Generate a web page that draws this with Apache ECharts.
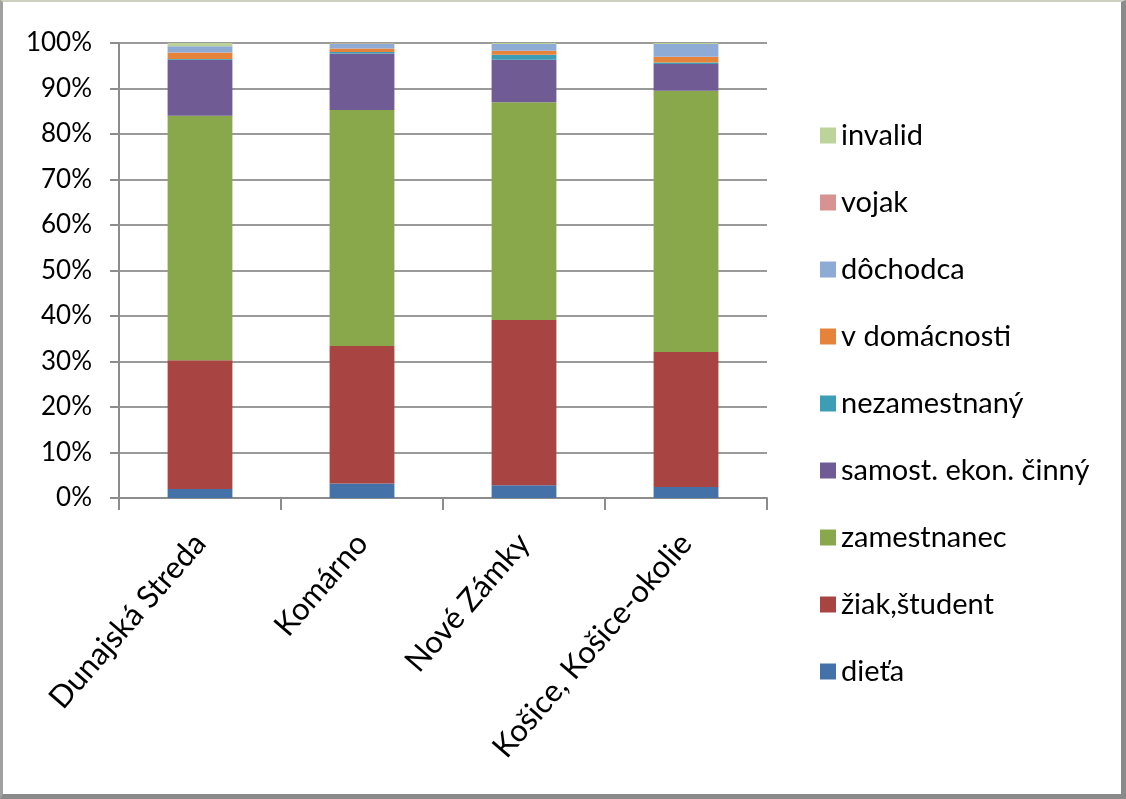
<!DOCTYPE html>
<html>
<head>
<meta charset="utf-8">
<script src="https://cdn.jsdelivr.net/npm/echarts@6/dist/echarts.min.js"></script>
<style>
html,body{margin:0;padding:0;background:#fff;}
#frame{position:absolute;left:0;top:0;width:1126px;height:799px;box-sizing:border-box;
border-top:2px solid #cfcfc0;border-left:3px solid #a0a0a0;border-right:5px solid #8a8a8a;border-bottom:5px solid #8a8a8a;}
#chart{position:absolute;left:0;top:0;width:1126px;height:799px;}
</style>
</head>
<body>
<div id="chart"></div>
<div id="frame"></div>
<script>
const categories = ['Dunajská Streda', 'Komárno', 'Nové Zámky', 'Košice, Košice-okolie'];
const yTicks = [0, 10, 20, 30, 40, 50, 60, 70, 80, 90, 100];

const dieta        = [2.0, 3.2, 2.8, 2.4];
const ziakStudent  = [28.3, 30.2, 36.3, 29.7];
const zamestnanec  = [53.7, 51.9, 47.9, 57.4];
const samostEkon   = [12.3, 12.4, 9.3, 5.9];
const nezamestnany = [0.2, 0.3, 1.1, 0.3];
const vDomacnosti  = [1.4, 0.8, 0.9, 1.3];
const dochodca     = [1.4, 1.0, 1.5, 2.8];
const vojak        = [0.0, 0.1, 0.0, 0.0];
const invalid      = [0.7, 0.1, 0.2, 0.2];

const seriesDefs = [
  ['dieťa', dieta, '#4571a9'],
  ['žiak,študent', ziakStudent, '#a84542'],
  ['zamestnanec', zamestnanec, '#88a84b'],
  ['samost. ekon. činný', samostEkon, '#715b94'],
  ['nezamestnaný', nezamestnany, '#3d9db5'],
  ['v domácnosti', vDomacnosti, '#e5833a'],
  ['dôchodca', dochodca, '#8eabd6'],
  ['vojak', vojak, '#d69391'],
  ['invalid', invalid, '#bcd499']
];

const chart = echarts.init(document.getElementById('chart'));
chart.setOption({
  animation: false,
  backgroundColor: '#fff',
  textStyle: { fontFamily: 'Lato', color: '#000' },
  grid: { left: 119, right: 359, top: 43, bottom: 301 },
  legend: {
    orient: 'vertical',
    left: 815,
    top: 116,
    itemWidth: 16,
    itemHeight: 16,
    itemGap: 38,
    icon: 'rect',
    data: seriesDefs.map(s => s[0]).reverse(),
    textStyle: { fontSize: 29, lineHeight: 29, color: '#000', fontFamily: 'Lato', padding: [0, 0, 0, 0] }
  },
  xAxis: {
    type: 'category',
    data: categories,
    axisLine: { lineStyle: { color: '#8c8c8c', width: 2 } },
    axisTick: { show: true, length: 12, lineStyle: { color: '#8c8c8c', width: 2 } },
    axisLabel: { rotate: 49, interval: 0, fontSize: 31, color: '#000', margin: 40, fontFamily: 'Lato' }
  },
  yAxis: {
    type: 'value',
    min: 0,
    max: 100,
    interval: 10,
    axisLine: { show: true, lineStyle: { color: '#8c8c8c', width: 2 } },
    axisTick: { show: true, length: 9, lineStyle: { color: '#8c8c8c', width: 2 } },
    splitLine: { show: true, lineStyle: { color: '#9a9a9a', width: 2 } },
    axisLabel: {
      fontSize: 26, color: '#000', margin: 27, fontFamily: 'Lato',
      formatter: v => (yTicks.indexOf(v) >= 0 ? v + '%' : '')
    }
  },
  series: seriesDefs.map(([name, data, color]) => ({
    name: name,
    type: 'bar',
    stack: 'total',
    data: data,
    barWidth: '40%',
    itemStyle: { color: color }
  }))
});
</script>
</body>
</html>
